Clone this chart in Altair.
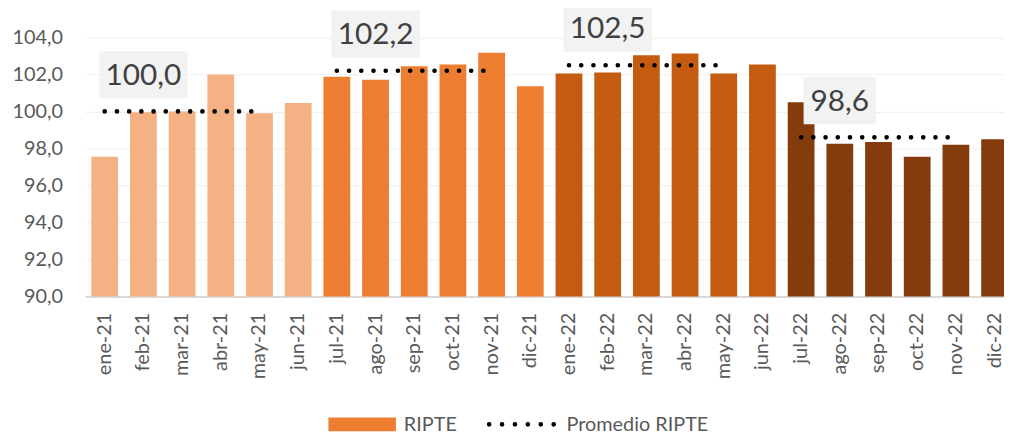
import altair as alt
import pandas as pd

months = ["ene-21", "feb-21", "mar-21", "abr-21", "may-21", "jun-21",
          "jul-21", "ago-21", "sep-21", "oct-21", "nov-21", "dic-21",
          "ene-22", "feb-22", "mar-22", "abr-22", "may-22", "jun-22",
          "jul-22", "ago-22", "sep-22", "oct-22", "nov-22", "dic-22"]
values = [97.55, 99.96, 100.0, 102.0, 99.9, 100.46,
          101.87, 101.72, 102.45, 102.54, 103.17, 101.36,
          102.05, 102.1, 103.04, 103.13, 102.05, 102.54,
          100.5, 98.25, 98.35, 97.55, 98.2, 98.5]
periods = ["S1-21", "S2-21", "S1-22", "S2-22"]
averages = [100.0, 102.2, 102.5, 98.6]
period_colors = ["#F4B183", "#ED7D31", "#C55A11", "#843C0C"]
y_ticks = [90, 92, 94, 96, 98, 100, 102, 104]

FONT = "Lato"
TXT = "#595959"

df = pd.DataFrame({
    "mes": months,
    "valor": values,
    "periodo": [periods[i // 6] for i in range(len(months))],
})
lines_df = pd.DataFrame([
    {"mes": months[6 * p + k], "prom": averages[p], "periodo": periods[p]}
    for p in range(len(periods)) for k in range(5)
])
labels_df = pd.DataFrame([
    {"mes": months[6 * p + 1], "prom": averages[p],
     "txt": f"{averages[p]:.1f}".replace(".", ",")}
    for p in range(len(periods))
])
labels5 = labels_df[labels_df["txt"].str.len() == 5]
labels4 = labels_df[labels_df["txt"].str.len() == 4]

x_scale = alt.Scale(domain=months, range=[0, 936], paddingInner=0.308, paddingOuter=0.154)
y_scale = alt.Scale(domain=[90, 104], nice=False, zero=False)

x_axis = alt.Axis(title=None, labelAngle=-90, labelFontSize=20, labelColor=TXT,
                  labelFont=FONT, labelPadding=16, ticks=False, grid=False,
                  domainColor="#D9D9D9", domainWidth=2, labelOverlap=False)
y_axis = alt.Axis(title=None, values=y_ticks,
                  labelExpr="replace(format(datum.value, '.1f'), '.', ',')",
                  labelFontSize=20, labelColor=TXT, labelFont=FONT, labelPadding=23,
                  labelOverlap=False, labelFlush=False, labelBound=False,
                  ticks=False, domain=False, grid=True, gridColor="#EFEFEF", gridWidth=1)

X = alt.X("mes:N", scale=x_scale, axis=x_axis)

bars = alt.Chart(df).mark_bar(clip=True).encode(
    x=X,
    y=alt.Y("valor:Q", scale=y_scale, axis=y_axis),
    color=alt.Color("periodo:N", scale=alt.Scale(domain=periods, range=period_colors), legend=None),
)

lines = alt.Chart(lines_df).mark_line(
    color="black", strokeWidth=4.7, strokeCap="round", strokeDash=[0.01, 12.3]
).encode(
    x=X,
    y=alt.Y("prom:Q", scale=y_scale, axis=y_axis),
    detail="periodo:N",
)

def box_layer(data, w, h):
    half = h / w
    path = f"M-1,-{half:.4f}L1,-{half:.4f}L1,{half:.4f}L-1,{half:.4f}Z"
    return alt.Chart(data).mark_point(
        shape=path, size=w * w, filled=True, fill="#F2F2F2", opacity=1,
        strokeWidth=0, yOffset=-37
    ).encode(
        x=X,
        y=alt.Y("prom:Q", scale=y_scale, axis=y_axis),
    )

boxes5 = box_layer(labels5, 89, 47.5)
boxes4 = box_layer(labels4, 73, 47.5)

texts = alt.Chart(labels_df).mark_text(
    font=FONT, fontSize=30, color="#404040", baseline="middle", align="center", yOffset=-36
).encode(
    x=X,
    y=alt.Y("prom:Q", scale=y_scale, axis=y_axis),
    text="txt:N",
)

one = pd.DataFrame({"k": [0]})
leg_swatch = alt.Chart(one).mark_rect(color="#ED7D31").encode(
    x=alt.value(245), x2=alt.value(313), y=alt.value(383), y2=alt.value(397))
leg_text1 = alt.Chart(one).mark_text(
    text="RIPTE", align="left", baseline="alphabetic", font=FONT, fontSize=20, color=TXT
).encode(x=alt.value(321), y=alt.value(397))
leg_dots = alt.Chart(one).mark_rule(
    color="black", strokeWidth=4.7, strokeCap="round", strokeDash=[0.01, 13]
).encode(x=alt.value(407), x2=alt.value(473), y=alt.value(390))
leg_text2 = alt.Chart(one).mark_text(
    text="Promedio RIPTE", align="left", baseline="alphabetic", font=FONT, fontSize=20, color=TXT
).encode(x=alt.value(485), y=alt.value(397))

chart = alt.layer(
    bars, lines, boxes5, boxes4, texts, leg_swatch, leg_text1, leg_dots, leg_text2
).properties(
    width=926, height=261,
    autosize=alt.AutoSizeParams(type="none"),
    padding={"left": 78, "top": 28, "right": 0, "bottom": 137},
    background="white",
).configure_view(stroke=None).configure_axis(labelOverlap=False)

chart.save("out.html", embed_options={"renderer": "svg", "actions": False})
